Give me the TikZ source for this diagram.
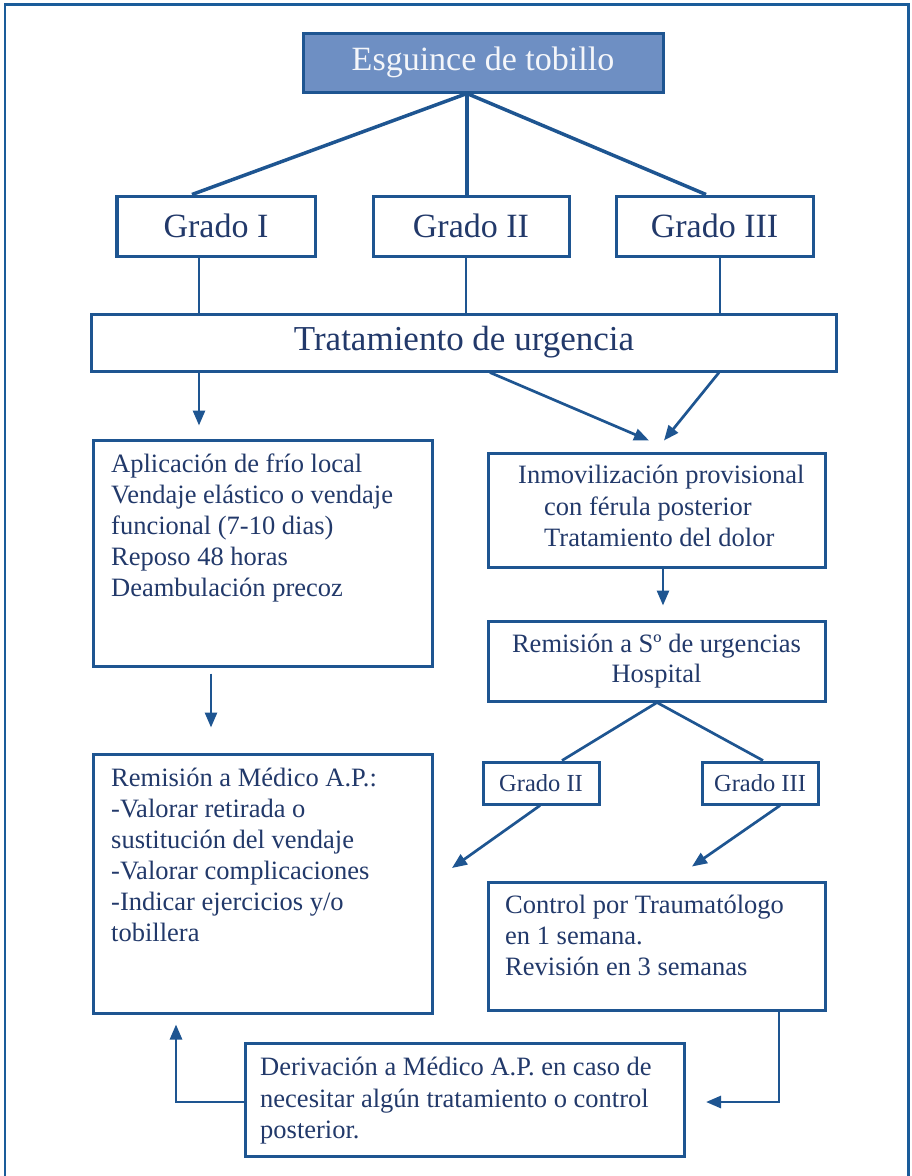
\documentclass[tikz,border=0pt]{standalone}
\usepackage{fontspec}
\setmainfont{Liberation Serif}
\usetikzlibrary{arrows.meta,calc}
\definecolor{lineblue}{HTML}{1E5591}
\definecolor{frameblue}{HTML}{1A5C9A}
\definecolor{topfill}{HTML}{6E8FC3}
\definecolor{txt}{HTML}{22396A}
\tikzset{
  box/.style={draw=lineblue, line width=3bp, fill=white, inner sep=0pt, rectangle},
  conn/.style={draw=lineblue, line width=2.7bp},
  thick conn/.style={draw=lineblue, line width=3.5bp},
  arr/.style={draw=lineblue, line width=2.7bp, -{Triangle[length=15bp,width=12bp]}},
  body/.style={text=txt, inner sep=0pt, align=left, font=\fontsize{26.5bp}{31bp}\selectfont},
  big/.style={text=txt, font=\fontsize{34bp}{40bp}\selectfont},
  small/.style={text=txt, font=\fontsize{24.5bp}{29bp}\selectfont},
}
\begin{document}
\begin{tikzpicture}[x=1bp,y=-1bp]
\useasboundingbox (0,0) rectangle (912,1176);
\fill[white] (0,0) rectangle (912,1176);
% outer frame (open at bottom)
\draw[frameblue, line width=2.6bp] (5,1190) -- (5,4.5) -- (908.5,4.5) -- (908.5,1190);

% top row
\node[box, fill=topfill, minimum width=360bp, minimum height=59bp, text=white!92!topfill,
      font=\fontsize{34bp}{40bp}\selectfont] (top) at (483,62.5) {Esguince de tobillo};
\node[box, big, minimum width=198bp, minimum height=60bp] (gI) at (216,226) {Grado I};
\node[box, big, minimum width=196bp, minimum height=60bp] (gII) at (471,226) {Grado II};
\node[box, big, minimum width=197bp, minimum height=60bp] (gIII) at (714.5,226) {Grado III};
\node[box, text=txt, font=\fontsize{35bp}{40bp}\selectfont, minimum width=744bp, minimum height=57bp] (trat) at (464,342.5) {Tratamiento de urgencia};

\draw[thick conn] (top.south -| 467,0) -- (gI.north -| 192,0);
\draw[thick conn] (top.south -| 467,0) -- (gII.north -| 467,0);
\draw[thick conn] (top.south -| 467,0) -- (gIII.north -| 706,0);
\draw[conn] (gI.south -| 199,0) -- (trat.north -| 199,0);
\draw[conn] (gII.south -| 466,0) -- (trat.north -| 466,0);
\draw[conn] (gIII.south -| 720,0) -- (trat.north -| 720,0);

% left column
\node[box, minimum width=339bp, minimum height=226bp] (left1) at (263,553) {};
\node[body, anchor=north west] (left1t) at (111,454) {Aplicación de frío local\\Vendaje elástico o vendaje\\funcional (7-10 dias)\\Reposo 48 horas\\Deambulación precoz};

\node[box, minimum width=339bp, minimum height=259bp] (left2) at (263,883.5) {};
\node[body, anchor=north west] (left2t) at (111,768) {Remisión a Médico A.P.:\\-Valorar retirada o\\sustitución del vendaje\\-Valorar complicaciones\\-Indicar ejercicios y/o\\tobillera};

% right column
\node[box, minimum width=337bp, minimum height=114bp] (inm) at (656.5,510) {};
\node[body, anchor=north west, font=\fontsize{26.5bp}{31.5bp}\selectfont] (inmt) at (518,465) {Inmovilización provisional\\\hspace*{26bp}con férula posterior\\\hspace*{26bp}Tratamiento del dolor};

\node[box, body, align=center, font=\fontsize{26.5bp}{30bp}\selectfont, minimum width=337bp, minimum height=80bp] (rem) at (656.5,661) {Remisión a Sº de urgencias\\Hospital};

\node[box, small, minimum width=116bp, minimum height=42bp] (sII) at (541,783) {Grado II};
\node[box, small, minimum width=116bp, minimum height=42bp] (sIII) at (760,783) {Grado III};

\node[box, minimum width=337bp, minimum height=128bp] (ctrl) at (656.5,946) {};
\node[body, anchor=north west] (ctrlt) at (505,895) {Control por Traumatólogo\\en 1 semana.\\Revisión en 3 semanas};

\node[box, minimum width=439bp, minimum height=113bp] (deriv) at (465,1099.5) {};
\node[body, anchor=north west, font=\fontsize{26.5bp}{31.5bp}\selectfont] (derivt) at (260,1057) {Derivación a Médico A.P. en caso de\\necesitar algún tratamiento o control\\posterior.};

% arrows
\draw[arr] (trat.south -| 199,0) -- ($(left1.north -| 199,0)+(0,-13)$);
\draw[arr] (trat.south -| 490,0) -- ($(inm.north -| 649,0)+(0,-11)$);
\draw[arr] (trat.south -| 719,0) -- ($(inm.north -| 664,0)+(0,-11)$);
\draw[arr] (inm.south -| 663,0) -- ($(rem.north -| 663,0)+(0,-14)$);
\draw[conn] (rem.south -| 657,0) -- (sII.north -| 562,0);
\draw[conn] (rem.south -| 657,0) -- (sIII.north -| 763,0);
\draw[arr] (sII.south -| 540,0) -- (452,868);
\draw[arr] (sIII.south -| 780,0) -- ($(ctrl.north -| 692,0)+(0,-14)$);
\draw[arr] ($(left1.south -| 211,0)+(0,6)$) -- ($(left2.north -| 211,0)+(0,-25)$);
\draw[arr] (ctrl.south -| 779,0) |- ($(deriv.east |- 0,1102)+(20,0)$);
\draw[arr] (deriv.west |- 0,1102) -| ($(left2.south -| 176,0)+(0,10)$);
\end{tikzpicture}
\end{document}
